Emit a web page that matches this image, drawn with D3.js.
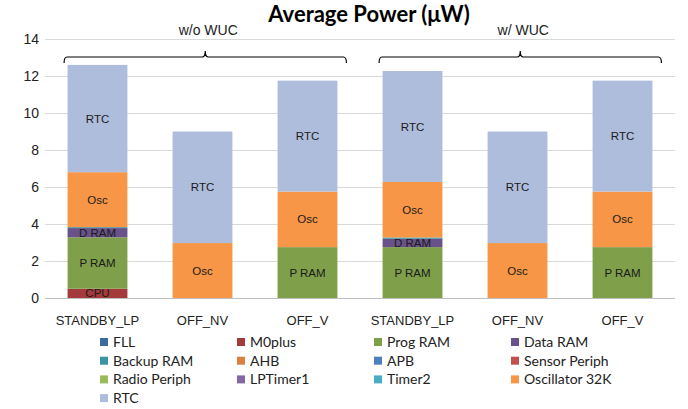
<!DOCTYPE html>
<html>
<head>
<meta charset="utf-8">
<script src="https://cdn.jsdelivr.net/npm/d3@7"></script>
<style>
  body { margin: 0; background: #fff; }
  svg { display: block; }
</style>
</head>
<body>
<div id="canvas"></div>
<script>
let categories = ['STANDBY_LP', 'OFF_NV', 'OFF_V', 'STANDBY_LP', 'OFF_NV', 'OFF_V']
let groups = ['w/o WUC', 'w/ WUC']
let series = ['FLL', 'M0plus', 'Prog RAM', 'Data RAM', 'Backup RAM', 'AHB', 'APB',
  'Sensor Periph', 'Radio Periph', 'LPTimer1', 'Timer2', 'Oscillator 32K', 'RTC']
let segLabels = ['', 'CPU', 'P RAM', 'D RAM', '', '', '', '', '', '', '', 'Osc', 'RTC']
let values = [
  [0, 0, 0, 0, 0, 0],              // FLL
  [0.5, 0, 0, 0, 0, 0],            // M0plus
  [2.78, 0, 2.75, 2.75, 0, 2.75],  // Prog RAM
  [0.5, 0, 0, 0.45, 0, 0],         // Data RAM
  [0.05, 0, 0, 0.07, 0, 0],        // Backup RAM
  [0, 0, 0, 0, 0, 0],              // AHB
  [0, 0, 0, 0, 0, 0],              // APB
  [0, 0, 0, 0, 0, 0],              // Sensor Periph
  [0, 0, 0, 0, 0, 0],              // Radio Periph
  [0, 0, 0, 0, 0, 0],              // LPTimer1
  [0, 0, 0, 0, 0, 0],              // Timer2
  [2.97, 2.97, 3.0, 3.0, 2.97, 3.0], // Oscillator 32K
  [5.8, 6.03, 6.0, 6.0, 6.03, 6.0]   // RTC
]
let yTicks = [0, 2, 4, 6, 8, 10, 12, 14]
let colors = ['#3a6a9e', '#a53a3c', '#7f9f4b', '#695289', '#3b93a6', '#d9813e', '#4b7fbd',
  '#c0504d', '#9bbb59', '#8567a8', '#4bacc6', '#f79646', '#afbddc']

let W = 688, H = 409
let plotL = 45, plotR = 675, plotT = 39, plotB = 298

let svg = d3.select('#canvas').append('svg')
  .attr('width', W).attr('height', H)

let x = d3.scaleBand()
  .domain(d3.range(categories.length))
  .range([plotL, plotR])
  .paddingInner(0.43)
  .paddingOuter(0.215)

let y = d3.scaleLinear()
  .domain([0, 14])
  .range([plotB, plotT])

// grid + y labels
let yAxis = d3.axisLeft(y).tickValues(yTicks).tickSize(-(plotR - plotL)).tickPadding(7)
let gy = svg.append('g')
  .attr('transform', `translate(${plotL},0)`)
  .call(yAxis)
gy.select('.domain').remove()
gy.selectAll('line').attr('stroke', d => d == 0 ? '#bfbfbf' : '#d9d9d9')
gy.selectAll('text')
  .style('font-family', '"Liberation Sans", Arial, sans-serif')
  .style('font-size', '14px')
  .attr('fill', '#222')
  .attr('x', -6)

// stacked bars
let rows = d3.range(categories.length).map(i => {
  let r = { i: i }
  series.forEach((s, k) => r[s] = values[k][i])
  return r
})
let stacked = d3.stack().keys(series)(rows)

let layers = svg.selectAll('.layer')
  .data(stacked)
  .enter().append('g')
  .attr('class', 'layer')
  .attr('fill', (d, k) => colors[k])

layers.selectAll('rect')
  .data(d => d)
  .enter().append('rect')
  .attr('x', d => x(d.data.i))
  .attr('y', d => y(d[1]))
  .attr('width', x.bandwidth())
  .attr('height', d => y(d[0]) - y(d[1]))

// labels inside segments
layers.each(function(layer, k) {
  if (!segLabels[k]) return
  d3.select(this).selectAll('text')
    .data(layer.filter(d => d[1] - d[0] > 0))
    .enter().append('text')
    .attr('x', d => x(d.data.i) + x.bandwidth() / 2)
    .attr('y', d => (y(d[0]) + y(d[1])) / 2)
    .attr('dy', '0.35em')
    .attr('text-anchor', 'middle')
    .attr('fill', '#1a1a1a')
    .style('font-family', '"Liberation Sans", Arial, sans-serif')
    .style('font-size', '11.5px')
    .text(segLabels[k])
})

// x labels
svg.append('g').selectAll('text')
  .data(categories)
  .enter().append('text')
  .attr('x', (d, i) => x(i) + x.bandwidth() / 2)
  .attr('y', 325)
  .attr('text-anchor', 'middle')
  .attr('fill', '#222')
  .style('font-family', '"Liberation Sans", Arial, sans-serif')
  .style('font-size', '13px')
  .text(d => d)

// title
svg.append('text')
  .attr('x', 369).attr('y', 22)
  .attr('text-anchor', 'middle')
  .style('font-family', 'Lato, sans-serif')
  .style('font-weight', 'bold')
  .style('font-size', '22px')
  .text('Average Power (\u03bcW)')

// group brackets
let by = 57
groups.forEach((g, j) => {
  let x0 = x(j * 3) - 3.5
  let x1 = x(j * 3 + 2) + x.bandwidth() + 9
  let xm = (x0 + x1) / 2
  let p = `M${x0},${by + 6} Q${x0},${by} ${x0 + 3},${by} H${xm - 3} Q${xm},${by} ${xm},${by - 6}` +
    ` Q${xm},${by} ${xm + 3},${by} H${x1 - 3} Q${x1},${by} ${x1},${by + 6}`
  svg.append('path')
    .attr('d', p)
    .attr('fill', 'none')
    .attr('stroke', '#000')
    .attr('stroke-width', 1.2)
  svg.append('text')
    .attr('x', xm + 3).attr('y', 35)
    .attr('text-anchor', 'middle')
    .attr('fill', '#222')
    .style('font-family', '"Liberation Sans", Arial, sans-serif')
    .style('font-size', '14px')
    .text(g)
})

// legend, 4 columns
let legend = svg.append('g').selectAll('g')
  .data(series)
  .enter().append('g')
  .attr('transform', (d, k) => `translate(${100 + (k % 4) * 137},${342 + Math.floor(k / 4) * 18.7})`)
legend.append('rect')
  .attr('x', 0).attr('y', -4)
  .attr('width', 8).attr('height', 8)
  .attr('fill', (d, k) => colors[k])
legend.append('text')
  .attr('x', 13).attr('y', 0)
  .attr('dy', '0.35em')
  .attr('fill', '#222')
  .style('font-family', 'Lato, sans-serif')
  .style('font-size', '14px')
  .text(d => d)
</script>
</body>
</html>
